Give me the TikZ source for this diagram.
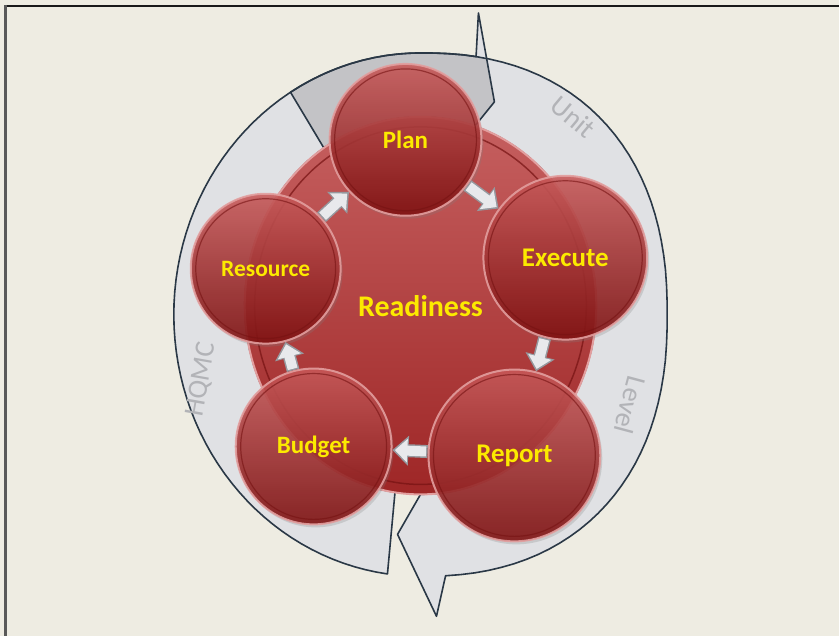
\documentclass[tikz,border=0pt]{standalone}
\usepackage{fontspec}
\setmainfont{Carlito}
\usepackage{tikz}
\usetikzlibrary{arrows.meta,shapes.geometric,shadows}
\definecolor{slidebg}{RGB}{238,236,226}
\definecolor{ringfill}{RGB}{224,225,228}
\definecolor{ringedge}{RGB}{42,56,70}
\definecolor{ringtext}{RGB}{178,179,183}
\definecolor{hubtop}{RGB}{198,96,96}
\definecolor{hubbot}{RGB}{158,38,38}
\definecolor{stagetop}{RGB}{200,88,88}
\definecolor{stagebot}{RGB}{126,14,14}
\definecolor{rimpink}{RGB}{226,158,158}
\definecolor{rimdark}{RGB}{118,18,18}
\definecolor{labelyellow}{RGB}{252,234,0}
\definecolor{flowfill}{RGB}{232,233,236}
\definecolor{flowedge}{RGB}{150,152,158}

% outline of the two ring arrows (pixel units, y downwards)
\newcommand{\hqmcpath}{plot[domain=0:1, samples=70] ({ox(97.7+182.8*\x)}, {oy(97.7+182.8*\x)})
  -- (479,13) -- (495,102)
  -- plot[domain=0:1, samples=40] ({421+176*cos(-72-189.7*\x)}, {306+189*sin(-72-189.7*\x)}) -- cycle}
\newcommand{\unitpath}{plot[domain=0:1, samples=70] ({ox(-121.8+207.9*\x)}, {oy(-121.8+207.9*\x)})
  -- (437,617) -- (398,535)
  -- plot[domain=0:1, samples=40] ({421+176*cos(90-213.4*\x)}, {306+189*sin(90-213.4*\x)}) -- cycle}

\begin{document}
\begin{tikzpicture}[x=1pt, y=-1pt,
  declare function={
    po(\v)=((\v>=0)-(\v<0))*pow(abs(\v)+0.0001,0.87);
    ox(\p)=421+247*((cos(\p)>0)*po(cos(\p))+(cos(\p)<=0)*cos(\p));
    oy(\p)=315+262*((cos(\p)>0)*po(sin(\p))+(cos(\p)<=0)*sin(\p));
  },
  ring/.style={fill=ringfill, draw=ringedge, line width=1.6pt, line join=round},
  overlap/.style={fill=black, fill opacity=0.13},
  ringlabel/.style={text=ringtext, font=\fontsize{28}{28}\selectfont, inner sep=0pt},
  hub/.style={ellipse, minimum width=352pt, minimum height=378pt, inner sep=0pt,
    top color=hubtop, bottom color=hubbot, draw=rimpink, line width=2pt,
    text=labelyellow, font=\bfseries\fontsize{30}{30}\selectfont,
    path picture={\draw[rimdark, line width=1.5pt, opacity=0.7] (path picture bounding box.center) ellipse[x radius=166, y radius=179];}},
  stage/.style n args={2}{circle, minimum size=#1, inner sep=0pt,
    top color=stagetop, bottom color=stagebot, fill opacity=0.88, text opacity=1,
    draw=rimpink, line width=2pt, draw opacity=0.9,
    text=labelyellow, font=\bfseries\fontsize{#2}{#2}\selectfont,
    drop shadow={shadow xshift=2pt, shadow yshift=-3pt, opacity=0.25},
    path picture={\draw[rimdark, line width=1.2pt, opacity=0.6] (path picture bounding box.center) circle[radius=#1/2-5];}},
  flow/.style={draw=flowedge, line width=13pt, -{Triangle[length=16pt,width=29pt]},
    postaction={draw=flowfill, line width=10pt, shorten >=2.4pt, shorten <=1.5pt, -{Triangle[length=12.5pt,width=23pt]}}}
  ]
  \fill[slidebg] (0,0) rectangle (840,637);
  \draw[black!90, line width=2pt] (5,6) -- (840,6);
  \draw[black!65, line width=3pt] (6,5) -- (6,637);

  % ring arrows
  \fill[ringfill] \hqmcpath;
  \fill[ringfill] \unitpath;
  \begin{scope}
    \clip \hqmcpath;
    \fill[overlap] \unitpath;
  \end{scope}
  \draw[ring, fill=none] \hqmcpath;
  \draw[ring, fill=none] \unitpath;

  \node[ringlabel, rotate=-40] (unit) at (574,117) {Unit};
  \node[ringlabel, rotate=-105] (level) at (631,406) {Level};
  \node[ringlabel, rotate=80] (hqmc) at (202,380) {HQMC};

  % hub and stages
  \node[hub] (ready) at (421,306) {Readiness};

  \node[stage={152}{25}] (plan) at (406,140) {Plan};
  \node[stage={164}{27}] (exec) at (566,258) {Execute};
  \node[stage={172}{27}] (report) at (515,456) {Report};
  \node[stage={156}{25}] (budget) at (314,447) {Budget};
  \node[stage={150}{23.5}] (resource) at (266,269) {Resource};

  \draw[flow] (plan) -- (exec);
  \draw[flow] (exec) -- (report);
  \draw[flow] (report) -- (budget);
  \draw[flow] (budget) -- (resource);
  \draw[flow] (resource) -- (plan);
\end{tikzpicture}
\end{document}
